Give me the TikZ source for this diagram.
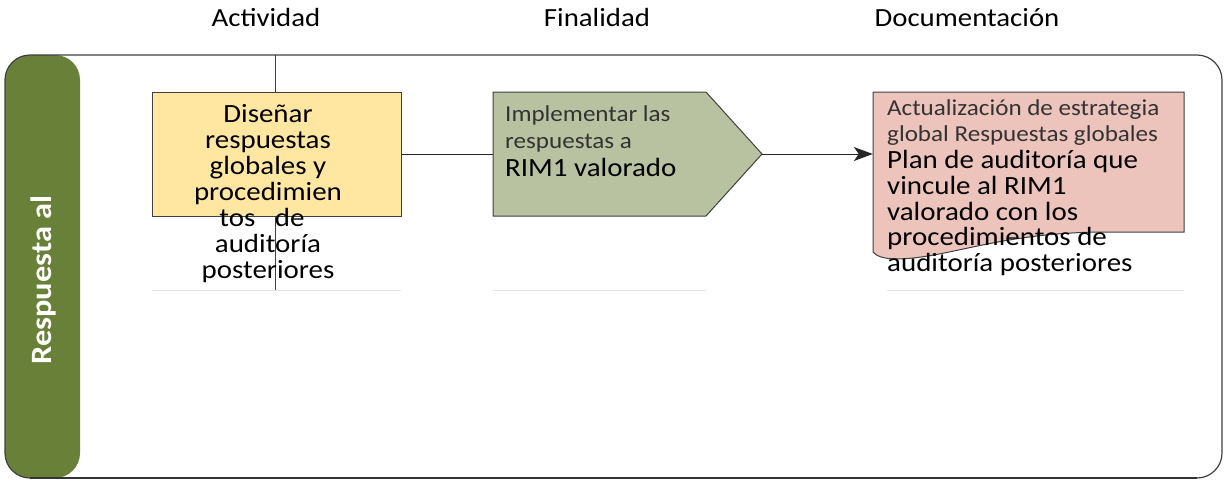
\documentclass[tikz,border=0pt]{standalone}
\usepackage{fontspec}
\setmainfont{Carlito}[FakeStretch=1.1]
\usetikzlibrary{arrows.meta}
\definecolor{lanegreen}{RGB}{104,128,56}
\definecolor{boxyellow}{RGB}{255,231,162}
\definecolor{boxgreen}{RGB}{184,194,160}
\definecolor{boxpink}{RGB}{236,196,188}
\definecolor{edge}{RGB}{64,64,64}
\definecolor{smalltext}{RGB}{51,51,51}
\tikzset{
  shapeline/.style={draw=edge, line width=1pt},
  lg/.style={font=\fontsize{26.3}{26}\selectfont, inner sep=0pt, text=black},
  sm/.style={font=\fontsize{22.8}{26}\selectfont, inner sep=0pt, text=smalltext},
  hd/.style={font=\fontsize{26.2}{26}\selectfont, inner sep=0pt, text=black},
  sepline/.style={draw=gray!22, line width=1pt},
  conn/.style={draw=black!85, line width=1pt},
}
\begin{document}
\begin{tikzpicture}[x=1pt,y=-1pt]
\useasboundingbox (0,0) rectangle (1225,483);
% headers
\node[hd, anchor=base] (h1) at (266,26.7) {Actividad};
\node[hd, anchor=base] (h2) at (597,26.7) {Finalidad};
\node[hd, anchor=base] (h3) at (967,26.7) {Documentación};
% lane
\fill[lanegreen, rounded corners=25pt] (5,55) rectangle (80,478);
\draw[edge, line width=1.2pt, rounded corners=25pt] (5,55) rectangle (1222,478);
\draw[edge!80!black, line width=2pt] (30,478) -- (1197,478);
\node[rotate=90, text=white, inner sep=0pt, font=\bfseries\fontsize{29.5}{30}\selectfont] (lane) at (43,280) {Respuesta al};
% column divider
\draw[edge, line width=1pt] (275,55) -- (275,291);
% separators
\draw[sepline] (152,290) -- (401,290);
\draw[sepline] (493,290) -- (706,290);
\draw[sepline] (887,290) -- (1184,290);
% yellow box
\node[shapeline, fill=boxyellow, minimum width=249pt, minimum height=124pt, inner sep=0pt] (dis) at (276.5,154) {};
\node[lg, anchor=base] (d1) at (268,122) {Diseñar};
\node[lg, anchor=base] (d2) at (268,148) {respuestas};
\node[lg, anchor=base] (d3) at (268,174) {globales y};
\node[lg, anchor=base] (d4) at (268,200) {procedimien};
\node[lg, anchor=base] (d5) at (262,226) {tos\ \ \ de};
\node[lg, anchor=base] (d6) at (268,252) {auditoría};
\node[lg, anchor=base] (d7) at (268,278) {posteriores};
% green pentagon
\draw[shapeline, fill=boxgreen] (493,92) -- (706,92) -- (762,154) -- (706,216) -- (493,216) -- cycle;
\node[minimum width=269pt, minimum height=124pt, inner sep=0pt] (imp) at (627.5,154) {};
\node[sm, anchor=base west] (i1) at (505,121.7) {Implementar las};
\node[sm, anchor=base west] (i2) at (505,148) {respuestas a};
\node[lg, anchor=base west] (i3) at (505,176.7) {RIM1 valorado};
% pink document
\draw[shapeline, fill=boxpink] (873,92) -- (1184,92) -- (1184,232) -- (1107,232)
  .. controls (1000,232) and (950,258) .. (897,259)
  .. controls (884,259) and (876,256) .. (873,252) -- cycle;
\node[minimum width=311pt, minimum height=124pt, inner sep=0pt] (doc) at (1028.5,154) {};
\node[sm, anchor=base west] (p1) at (887,115) {Actualización de estrategia};
\node[sm, anchor=base west] (p2) at (887,141.7) {global Respuestas globales};
\node[lg, anchor=base west] (p3) at (887,168.5) {Plan de auditoría que};
\node[lg, anchor=base west] (p4) at (887,194.3) {vincule al RIM1};
\node[lg, anchor=base west] (p5) at (887,220.1) {valorado con los};
\node[lg, anchor=base west] (p6) at (887,245.9) {procedimientos de};
\node[lg, anchor=base west] (p7) at (887,271.7) {auditoría posteriores};
% connectors
\draw[conn] (dis.east) -- (imp.west);
\draw[conn, -{Stealth[length=19pt,width=14pt,inset=5pt]}] (imp.east) -- (doc.west);
\end{tikzpicture}
\end{document}
